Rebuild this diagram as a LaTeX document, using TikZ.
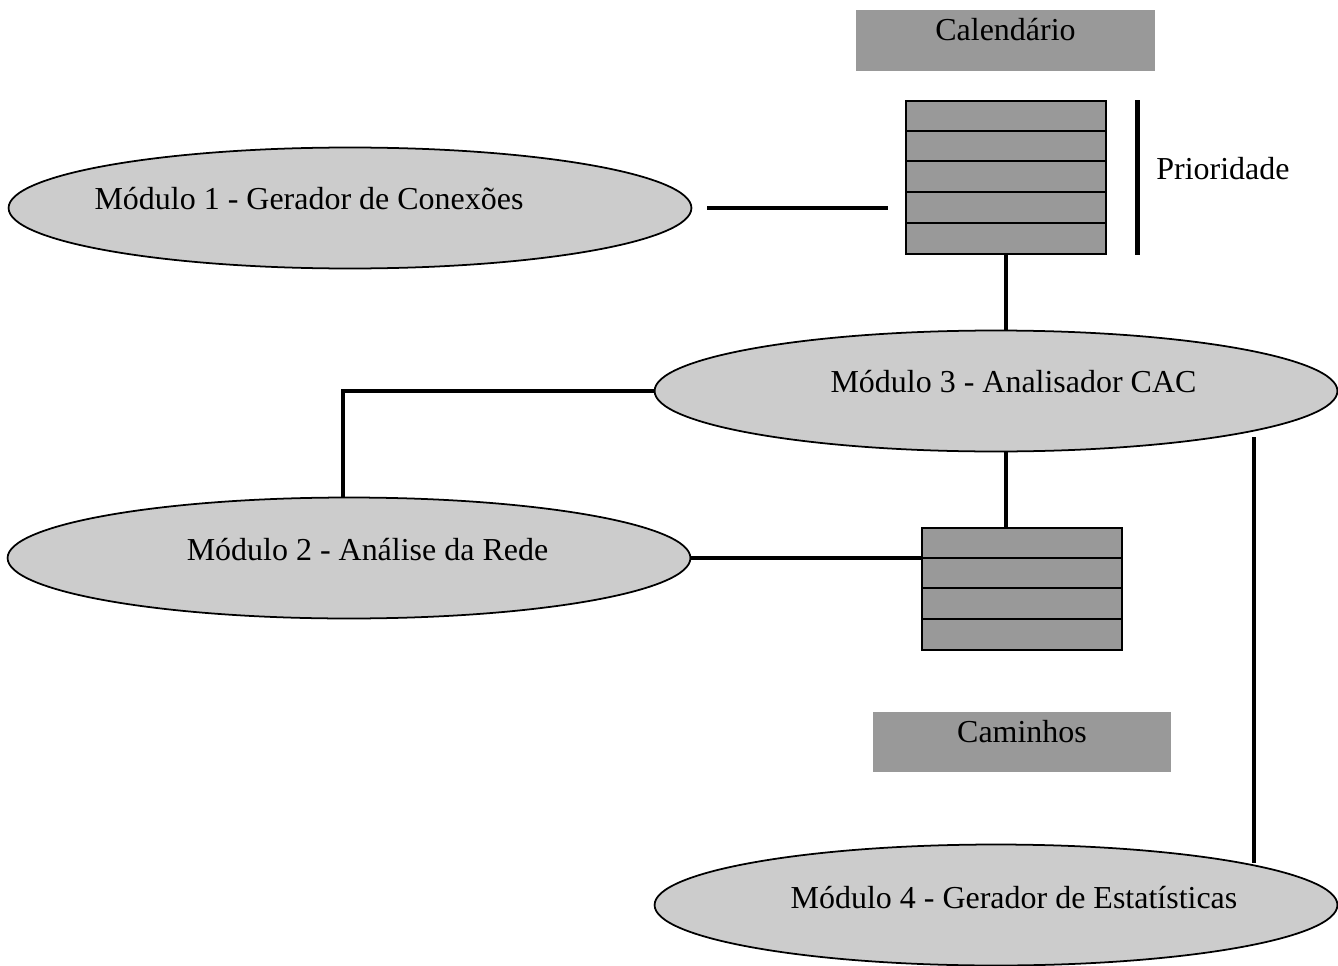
\documentclass[tikz,border=0pt]{standalone}
\usepackage{fontspec}
\setmainfont{Liberation Serif}
\usetikzlibrary{shapes.geometric,calc}

\definecolor{cinzaclaro}{HTML}{CCCCCC}
\definecolor{cinzaescuro}{HTML}{999999}

\tikzset{
  modulo/.style={ellipse, draw, line width=1pt, fill=cinzaclaro,
    minimum width=13.66cm, minimum height=2.42cm, inner sep=0pt},
  caixa/.style={rectangle, fill=cinzaescuro, minimum width=5.97cm,
    minimum height=1.21cm, inner sep=0pt},
  fila/.style={rectangle, draw, line width=0.9pt, fill=cinzaescuro,
    minimum width=4cm, inner sep=0pt},
  conn/.style={line width=2.8pt},
}

\begin{document}
\begin{tikzpicture}[x=0.02cm, y=-0.02cm, font=\fontsize{18.2}{21}\selectfont]

    % Margins of the page
    \useasboundingbox (0,0) rectangle (1338,966);

    % Calendar and paths
    \node[caixa, label={[yshift=0.21cm]center:Calendário}] (cal) at (1005.5,40.5) {};
    \node[caixa, label={[yshift=0.2cm]center:Caminhos}] (cam) at (1022,742) {};

    % Priority queue
    \node[fila, minimum height=3.06cm] (fila1) at (1006,177.5) {};
    \foreach \i in {1,...,4}
      \draw[line width=1.1pt]
        ($(fila1.north west)+(0,30.6*\i)$) -- ($(fila1.north east)+(0,30.6*\i)$);

    % Priority bar
    \draw[conn] ($(fila1.north east)+(31,0)$) -- ($(fila1.south east)+(31,0)$);
    \node[anchor=west, inner sep=0pt] (prio) at (1156,169) {Prioridade};

    % Path queue
    \node[fila, minimum height=2.44cm] (fila2) at (1022,589) {};
    \foreach \i in {1,...,3}
      \draw[line width=1.1pt]
        ($(fila2.north west)+(0,30.5*\i)$) -- ($(fila2.north east)+(0,30.5*\i)$);

    % Modules
    \node[modulo, label={[xshift=-0.82cm, yshift=0.19cm]center:Módulo 1 - Gerador de Conexões}]
      (mod1) at (350,208) {};
    \node[modulo, label={[xshift=0.37cm, yshift=0.17cm]center:Módulo 2 - Análise da Rede}]
      (mod2) at (349,558) {};
    \node[modulo, label={[xshift=0.35cm, yshift=0.18cm]center:Módulo 3 - Analisador CAC}]
      (mod3) at (996,391) {};
    \node[modulo, label={[xshift=0.36cm, yshift=0.15cm]center:Módulo 4 - Gerador de Estatísticas}]
      (mod4) at (996,905) {};

    % Connections
    \draw[conn] ($(mod1.east)+(15,0)$) -- ($(mod1.east -| fila1.west)+(-17,0)$);
    \draw[conn] (fila1.south) -- (fila1.south |- mod3.north);
    \draw[conn] (mod3.west) -| ($(mod2.north)+(-6,0)$);
    \draw[conn] (mod2.east) -- (mod2.east -| fila2.west);
    \draw[conn] (fila1.south |- mod3.south) -- (fila1.south |- fila2.north);

    % Statistics line
    \coordinate (v3) at (1254,437);
    \coordinate (v4) at (1254,863);
    \draw[conn] (v3) -- (v4);

\end{tikzpicture}
\end{document}
